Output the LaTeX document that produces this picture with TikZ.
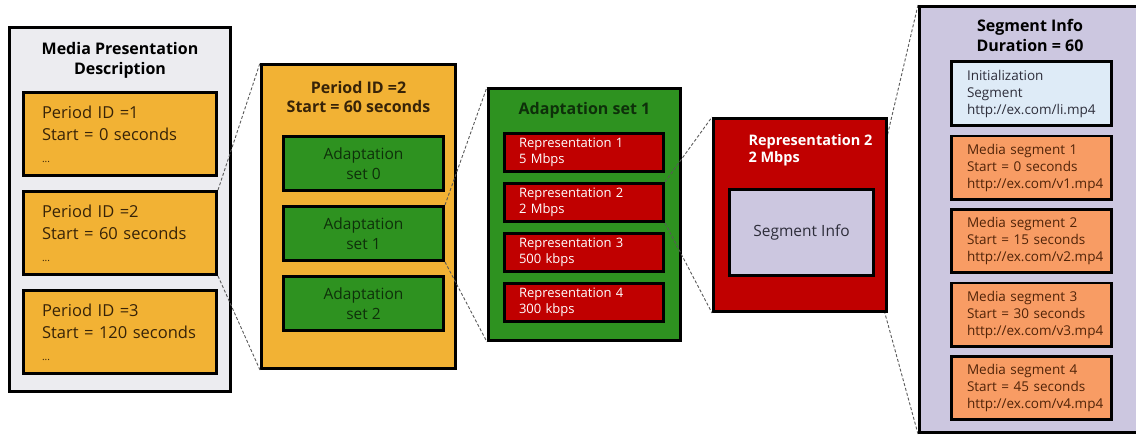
\documentclass[tikz,border=0pt]{standalone}
\usepackage{fontspec}
\setmainfont{Open Sans}
\usetikzlibrary{positioning,backgrounds}

\definecolor{mpdgray}{RGB}{236,236,240}
\definecolor{perorange}{RGB}{242,178,52}
\definecolor{pertext}{RGB}{55,35,8}
\definecolor{adgreen}{RGB}{46,146,32}
\definecolor{adtext}{RGB}{14,48,10}
\definecolor{repred}{RGB}{192,0,0}
\definecolor{seglav}{RGB}{204,199,224}
\definecolor{segtext}{RGB}{45,45,58}
\definecolor{initblue}{RGB}{222,235,247}
\definecolor{medorange}{RGB}{248,156,100}
\definecolor{medtext}{RGB}{80,35,8}

\begin{document}
\begin{tikzpicture}[
    x=1pt, y=-1pt,
    node distance=13pt,
    box/.style={draw, line width=2.8pt, inner sep=0pt, align=center},
    title/.style={font=\bfseries\fontsize{16}{20}\selectfont, align=center},
    perbox/.style={box, fill=perorange, minimum height=83.2pt, text width=156pt, inner xsep=18.6pt, align=left, text=pertext, font=\fontsize{16.5}{22}\selectfont},
    adbox/.style={box, fill=adgreen, minimum width=160.2pt, minimum height=54.2pt, text=adtext, font=\fontsize{15.5}{20}\selectfont},
    repbox/.style={box, fill=repred, minimum height=38.2pt, text width=130pt, inner xsep=14.6pt, align=left, text=white, font=\fontsize{13}{16.5}\selectfont},
    segbox/.style={box, minimum height=63.2pt, text width=129pt, inner xsep=15.6pt, align=left, font=\fontsize{13.5}{17}\selectfont},
    zoomline/.style={densely dashed, line width=0.9pt, draw=black!65}
]
\path[use as bounding box, clip] (0,0) rectangle (1136,436);

% 第一层: MPD
\node[box, fill=mpdgray, minimum width=221.2pt, minimum height=364.2pt] (mpd) at (120,209.5) {};
\node[title] at (120,60) {Media Presentation\\Description};
\node[perbox] (per1) at (120,134) {Period ID =1\\Start = 0 seconds\\{\fontsize{10}{22}\selectfont ...}};
\node[perbox, below=of per1] (per2) {Period ID =2\\Start = 60 seconds\\{\fontsize{10}{22}\selectfont ...}};
\node[perbox, below=of per2] (per3) {Period ID =3\\Start = 120 seconds\\{\fontsize{10}{22}\selectfont ...}};

% 第二层: Period
\node[box, fill=perorange, minimum width=194.2pt, minimum height=304.2pt] (period) at (358.5,216.5) {};
\node[title, text=pertext] at (358.5,97) {Period ID =2\\Start = 60 seconds};
\node[adbox] (ad0) at (363.5,163.5) {Adaptation\\set 0};
\node[adbox, below=of ad0] (ad1) {Adaptation\\set 1};
\node[adbox, below=of ad1] (ad2) {Adaptation\\set 2};

% 第三层: Adaptation set
\node[box, fill=adgreen, minimum width=192.2pt, minimum height=252.2pt] (adset) at (584.5,214.5) {};
\node[title, text=adtext] at (584.5,110) {Adaptation set 1};
\node[repbox] (rep1) at (584,152.5) {Representation 1\\5 Mbps};
\node[repbox, below=9pt of rep1] (rep2) {Representation 2\\2 Mbps};
\node[repbox, below=9pt of rep2] (rep3) {Representation 3\\500 kbps};
\node[repbox, below=9pt of rep3] (rep4) {Representation 4\\300 kbps};

% 第四层: Representation
\node[box, fill=repred, minimum width=173.2pt, minimum height=193.2pt] (repr) at (800,215) {};
\node[title, text=white, align=left, anchor=west, font=\bfseries\fontsize{14.5}{17.5}\selectfont] at (745,150) {Representation 2\\2 Mbps};
\node[box, fill=seglav, minimum width=144.2pt, minimum height=86.2pt, text=segtext, font=\fontsize{15.5}{20}\selectfont] (seginfo) at (801.5,232.5) {Segment Info};

% 第五层: Segment info
\node[box, fill=seglav, minimum width=221.2pt, minimum height=426.2pt] (seg) at (1030,219.5) {};
\node[title] at (1030,35) {Segment Info\\Duration = 60};
\node[segbox, fill=initblue, minimum height=64.2pt, text=segtext] (init) at (1031.5,93.5) {Initialization\\Segment\\http://ex.com/li.mp4};
\node[segbox, fill=medorange, text=medtext, below=7.5pt of init] (med1) {Media segment 1\\Start = 0 seconds\\http://ex.com/v1.mp4};
\node[segbox, fill=medorange, text=medtext, below=7.5pt of med1] (med2) {Media segment 2\\Start = 15 seconds\\http://ex.com/v2.mp4};
\node[segbox, fill=medorange, text=medtext, below=7.5pt of med2] (med3) {Media segment 3\\Start = 30 seconds\\http://ex.com/v3.mp4};
\node[segbox, fill=medorange, text=medtext, below=7.5pt of med3] (med4) {Media segment 4\\Start = 45 seconds\\http://ex.com/v4.mp4};

% 放大虚线
\draw[zoomline] (per2.north east) -- (period.north west);
\draw[zoomline] (per2.south east) -- (period.south west);
\draw[zoomline] (ad1.north east) -- (adset.north west);
\draw[zoomline] (ad1.south east) -- (adset.south west);
\draw[zoomline] (rep2.north east) -- (repr.north west);
\draw[zoomline] (rep2.south east) -- (repr.south west);
\begin{scope}[on background layer]
\draw[zoomline] (seginfo.north east) -- (seg.north west);
\draw[zoomline] (seginfo.south east) -- (seg.south west);
\end{scope}

\end{tikzpicture}
\end{document}
